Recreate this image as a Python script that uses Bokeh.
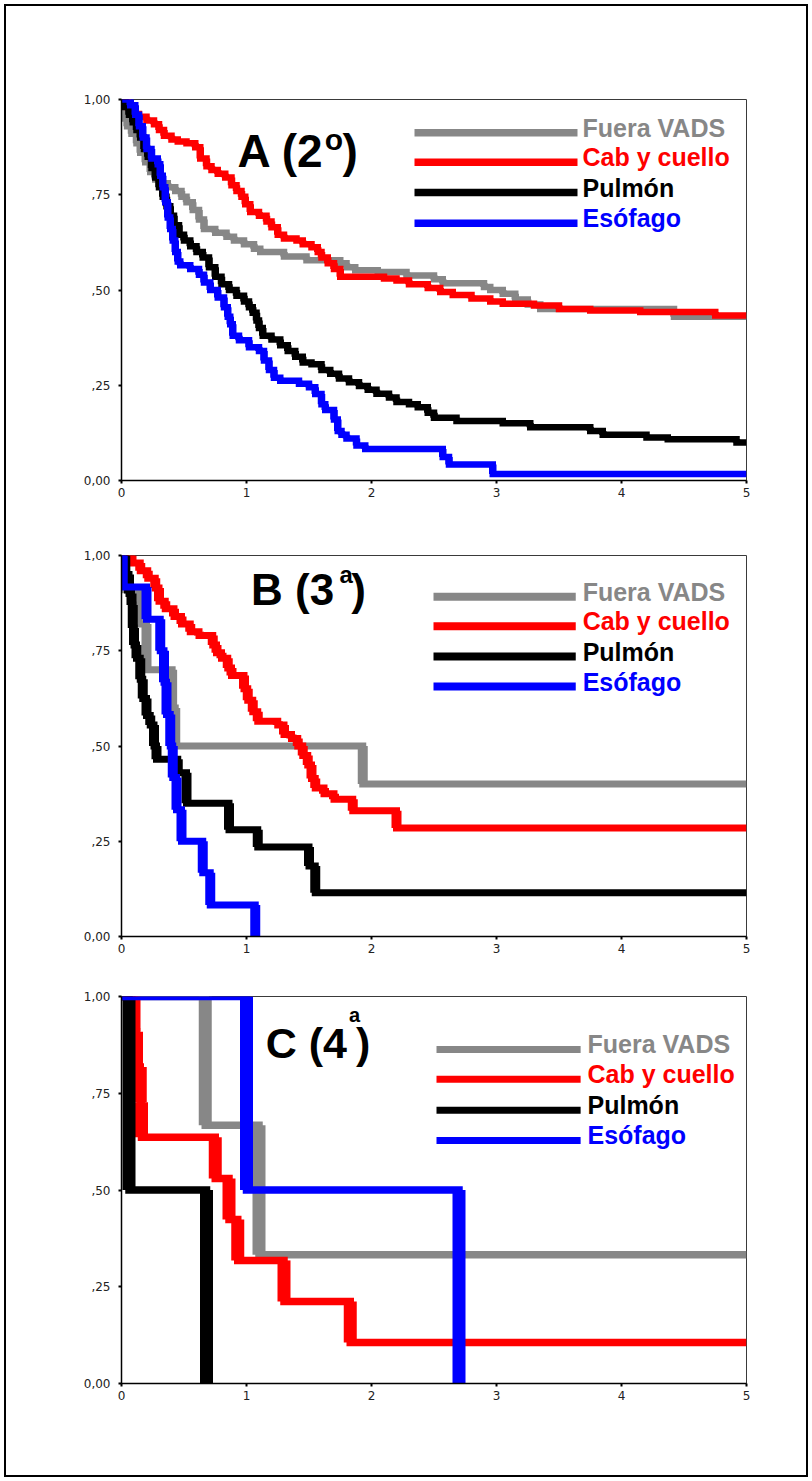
from bokeh.plotting import figure
from bokeh.layouts import column
from bokeh.models import Range1d, FixedTicker, Label
from bokeh.embed import file_html
from bokeh.resources import INLINE

# ---------------- data ----------------
series_names = ["Fuera VADS", "Cab y cuello", "Pulmón", "Esófago"]
series_colors = ["#878787", "#ff0000", "#000000", "#0000ff"]

x_ticks = [0, 1, 2, 3, 4, 5]
y_ticks = [0, 0.25, 0.5, 0.75, 1]
y_tick_labels = ["0,00", ",25", ",50", ",75", "1,00"]

# Panel A (2º)
tA_gray = [0, 0.02, 0.045, 0.08, 0.12, 0.15, 0.19, 0.23, 0.27, 0.32, 0.37, 0.43, 0.48, 0.52, 0.57,
           0.62, 0.66, 0.75, 0.84, 0.9, 0.98, 1.06, 1.11, 1.3, 1.48, 1.75, 1.8, 1.87, 2.05, 2.28,
           2.5, 2.57, 2.9, 2.95, 3.05, 3.15, 3.25, 3.35, 4.42]
sA_gray = [1.0, 0.95, 0.93, 0.91, 0.885, 0.86, 0.835, 0.81, 0.79, 0.78, 0.77, 0.76, 0.745, 0.73, 0.71,
           0.685, 0.66, 0.65, 0.64, 0.63, 0.62, 0.608, 0.6, 0.588, 0.578, 0.57, 0.56, 0.552, 0.547, 0.538,
           0.528, 0.518, 0.508, 0.5, 0.49, 0.475, 0.462, 0.45, 0.43]
tA_red = [0, 0.05, 0.09, 0.14, 0.2, 0.26, 0.3, 0.34, 0.4, 0.45, 0.52, 0.59, 0.63, 0.68, 0.72,
          0.77, 0.83, 0.88, 0.92, 0.96, 0.99, 1.03, 1.1, 1.16, 1.2, 1.25, 1.3, 1.4, 1.45, 1.52,
          1.57, 1.6, 1.65, 1.7, 1.75, 2.1, 2.2, 2.3, 2.45, 2.55, 2.65, 2.8, 2.95, 3.05, 3.3,
          3.5, 3.75, 4.15, 4.75]
sA_red = [1.0, 0.98, 0.962, 0.955, 0.945, 0.935, 0.92, 0.905, 0.895, 0.89, 0.885, 0.875, 0.845, 0.825, 0.815,
          0.805, 0.795, 0.775, 0.76, 0.745, 0.725, 0.705, 0.695, 0.68, 0.665, 0.645, 0.635, 0.63, 0.62, 0.612,
          0.6, 0.585, 0.57, 0.555, 0.535, 0.53, 0.525, 0.515, 0.505, 0.495, 0.487, 0.478, 0.47, 0.464, 0.459,
          0.45, 0.446, 0.442, 0.433]
tA_black = [0, 0.03, 0.06, 0.09, 0.12, 0.15, 0.18, 0.21, 0.24, 0.27, 0.3, 0.33, 0.36, 0.39, 0.42,
            0.46, 0.5, 0.55, 0.6, 0.65, 0.7, 0.75, 0.8, 0.86, 0.92, 0.98, 1.02, 1.05, 1.08, 1.1,
            1.13, 1.2, 1.27, 1.33, 1.39, 1.45, 1.52, 1.6, 1.67, 1.74, 1.82, 1.9, 1.97, 2.04, 2.14,
            2.2, 2.3, 2.37, 2.45, 2.5, 2.68, 3.05, 3.27, 3.75, 3.85, 4.2, 4.37, 4.92]
sA_black = [1.0, 0.98, 0.96, 0.94, 0.92, 0.9, 0.87, 0.85, 0.82, 0.795, 0.77, 0.745, 0.72, 0.695, 0.67,
            0.645, 0.63, 0.615, 0.6, 0.585, 0.56, 0.535, 0.515, 0.5, 0.485, 0.47, 0.455, 0.44, 0.42, 0.4,
            0.38, 0.37, 0.355, 0.34, 0.325, 0.31, 0.305, 0.29, 0.28, 0.268, 0.258, 0.248, 0.238, 0.228, 0.218,
            0.206, 0.2, 0.192, 0.178, 0.165, 0.156, 0.15, 0.14, 0.13, 0.12, 0.113, 0.108, 0.1]
tA_blue = [0, 0.07, 0.11, 0.14, 0.17, 0.2, 0.24, 0.29, 0.31, 0.33, 0.35, 0.37, 0.39, 0.41, 0.43,
           0.45, 0.47, 0.55, 0.62, 0.66, 0.71, 0.77, 0.82, 0.85, 0.87, 0.89, 0.94, 1.02, 1.1, 1.14,
           1.18, 1.22, 1.27, 1.42, 1.5, 1.55, 1.6, 1.63, 1.7, 1.73, 1.76, 1.8, 1.88, 1.95, 2.57,
           2.62, 2.97]
sA_blue = [1.0, 0.985, 0.96, 0.93, 0.9, 0.87, 0.845, 0.83, 0.8, 0.77, 0.73, 0.69, 0.66, 0.63, 0.6,
           0.575, 0.565, 0.555, 0.54, 0.52, 0.5, 0.48, 0.455, 0.43, 0.41, 0.38, 0.368, 0.35, 0.34, 0.315,
           0.29, 0.27, 0.262, 0.254, 0.245, 0.227, 0.2, 0.185, 0.16, 0.13, 0.12, 0.11, 0.092, 0.083, 0.062,
           0.042, 0.017]

# Panel B (3ª)
tB_gray = [0, 0.03, 0.13, 0.2, 0.405, 0.43, 1.93]
sB_gray = [1.0, 0.91, 0.82, 0.7, 0.6, 0.5, 0.4]
tB_red = [0, 0.08, 0.15, 0.21, 0.27, 0.3, 0.35, 0.42, 0.48, 0.55, 0.62, 0.73, 0.76, 0.8, 0.85, 0.88,
          0.98, 1.01, 1.05, 1.09, 1.25, 1.3, 1.36, 1.41, 1.45, 1.49, 1.52, 1.55, 1.62, 1.7, 1.85, 2.2]
sB_red = [1.0, 0.98, 0.96, 0.94, 0.915, 0.88, 0.86, 0.84, 0.82, 0.8, 0.79, 0.765, 0.745, 0.73, 0.705, 0.685,
          0.65, 0.62, 0.59, 0.565, 0.555, 0.53, 0.52, 0.5, 0.475, 0.45, 0.415, 0.39, 0.375, 0.36, 0.33, 0.285]
tB_black = [0, 0.03, 0.06, 0.08, 0.09, 0.1, 0.12, 0.15, 0.17, 0.2, 0.23, 0.26, 0.28, 0.45, 0.52, 0.86,
            1.09, 1.5, 1.55]
sB_black = [1.0, 0.95, 0.9, 0.87, 0.81, 0.765, 0.73, 0.675, 0.625, 0.58, 0.555, 0.5, 0.465, 0.43, 0.35, 0.28,
            0.235, 0.185, 0.115]
tB_blue = [0, 0.01, 0.2, 0.31, 0.34, 0.36, 0.39, 0.41, 0.44, 0.48, 0.65, 0.71, 1.07]
sB_blue = [1.0, 0.917, 0.833, 0.75, 0.667, 0.583, 0.5, 0.417, 0.333, 0.25, 0.167, 0.083, 0.0]

# Panel C (4ª)
tC_gray = [0, 0.67, 1.1]
sC_gray = [1.0, 0.667, 0.333]
tC_red = [0, 0.1, 0.12, 0.15, 0.16, 0.75, 0.86, 0.93, 1.3, 1.83]
sC_red = [1.0, 0.909, 0.818, 0.727, 0.636, 0.53, 0.424, 0.318, 0.212, 0.106]
tC_black = [0, 0.06, 0.68]
sC_black = [1.0, 0.5, 0.0]
tC_blue = [0, 1.0, 2.7]
sC_blue = [1.0, 0.5, 0.0]

X_MAX = 5

LABEL_FONT = "Liberation Sans"
TICK_FONT = "DejaVu Sans"


def make_panel(cfg):
    p = figure(width=800, height=cfg["height"],
               x_range=Range1d(0, X_MAX), y_range=Range1d(0, 1),
               output_backend="svg", toolbar_location=None,
               min_border_left=cfg["left"], min_border_right=cfg["right"],
               min_border_top=cfg["top"], min_border_bottom=cfg["bottom"])
    p.grid.visible = False
    p.background_fill_color = "white"
    p.border_fill_color = "white"
    p.outline_line_color = "#3a3a3a"
    p.outline_line_width = 1

    for ax in (p.xaxis[0], p.yaxis[0]):
        ax.axis_line_color = "black"
        ax.axis_line_width = 1.5
        ax.major_tick_in = 0
        ax.major_tick_out = 3
        ax.major_tick_line_width = 2
        ax.major_tick_line_color = "black"
        ax.minor_tick_line_color = None
        ax.major_label_text_font = TICK_FONT
        ax.major_label_text_font_size = "12px"
        ax.major_label_text_color = "#222222"
    p.xaxis.ticker = FixedTicker(ticks=x_ticks)
    p.xaxis.major_label_standoff = 4
    p.yaxis.ticker = FixedTicker(ticks=y_ticks)
    p.yaxis.major_label_overrides = {t: l for t, l in zip(y_ticks, y_tick_labels)}
    p.yaxis.major_label_standoff = 8

    for (t, s), color in zip(cfg["series"], series_colors):
        xs = list(t)
        ys = list(s)
        if ys[-1] > 0:
            xs.append(X_MAX)
            ys.append(ys[-1])
        p.step(xs, ys, mode="after", line_color=color, line_width=cfg["hw"], line_join="miter")
        p.segment(x0=t[1:], y0=s[:-1], x1=t[1:], y1=s[1:], line_color=color,
                  line_width=cfg["vw"], line_cap="butt")

    # legend (manual, coloured labels)
    lx0, lx1, tx = cfg["leg_x"]
    for name, color, ly, ty in zip(series_names, series_colors, cfg["leg_y"], cfg["leg_text_y"]):
        p.segment(x0=[lx0], y0=[ly], x1=[lx1], y1=[ly], line_color=color,
                  line_width=cfg["leg_lw"], line_cap="butt")
        p.add_layout(Label(x=tx, y=ty, text=name, text_color=color, text_font=LABEL_FONT,
                           text_font_style="bold", text_font_size="25px",
                           text_baseline="middle"))

    for text, x, y, size in cfg["title"]:
        p.add_layout(Label(x=x, y=y, text=text, text_color="black", text_font=LABEL_FONT,
                           text_font_style="bold", text_font_size=size,
                           text_baseline="middle"))
    return p


cfgA = dict(height=514, left=115, right=60, top=93, bottom=40, hw=6.5, vw=7.5,
            series=[(tA_gray, sA_gray), (tA_red, sA_red), (tA_black, sA_black), (tA_blue, sA_blue)],
            leg_x=(2.344, 3.648, 3.688), leg_y=[0.913, 0.835, 0.756, 0.675],
            leg_text_y=[0.9265, 0.8478, 0.769, 0.6877], leg_lw=7.5,
            title=[("A (2", 0.928, 0.866, "46px"), ("o", 1.625, 0.895, "30px"), (")", 1.768, 0.866, "46px")])

cfgB = dict(height=440, left=114, right=48, top=35, bottom=24, hw=7, vw=10,
            series=[(tB_gray, sB_gray), (tB_red, sB_red), (tB_black, sB_black), (tB_blue, sB_blue)],
            leg_x=(2.496, 3.634, 3.689), leg_y=[0.892, 0.814, 0.735, 0.656],
            leg_text_y=[0.9055, 0.8268, 0.748, 0.669], leg_lw=8,
            title=[("B (3", 1.036, 0.911, "44px"), ("a", 1.743, 0.951, "24px"), (")", 1.837, 0.911, "44px")])

cfgC = dict(height=515, left=115, right=56, top=36, bottom=92, hw=7.5, vw=13,
            series=[(tC_gray, sC_gray), (tC_red, sC_red), (tC_black, sC_black), (tC_blue, sC_blue)],
            leg_x=(2.52, 3.673, 3.728), leg_y=[0.863, 0.786, 0.706, 0.628],
            leg_text_y=[0.8773, 0.7997, 0.7196, 0.642], leg_lw=7,
            title=[("C (4", 1.153, 0.88, "43px"), ("a", 1.82, 0.952, "20px"), (")", 1.876, 0.88, "43px")])

pA = make_panel(cfgA)
pB = make_panel(cfgB)
pC = make_panel(cfgC)

layout = column(pA, pB, pC, spacing=0,
                styles={"border": "2px solid black", "margin": "4px", "background-color": "white"})

open("out.html", "w").write(file_html(layout, INLINE))
